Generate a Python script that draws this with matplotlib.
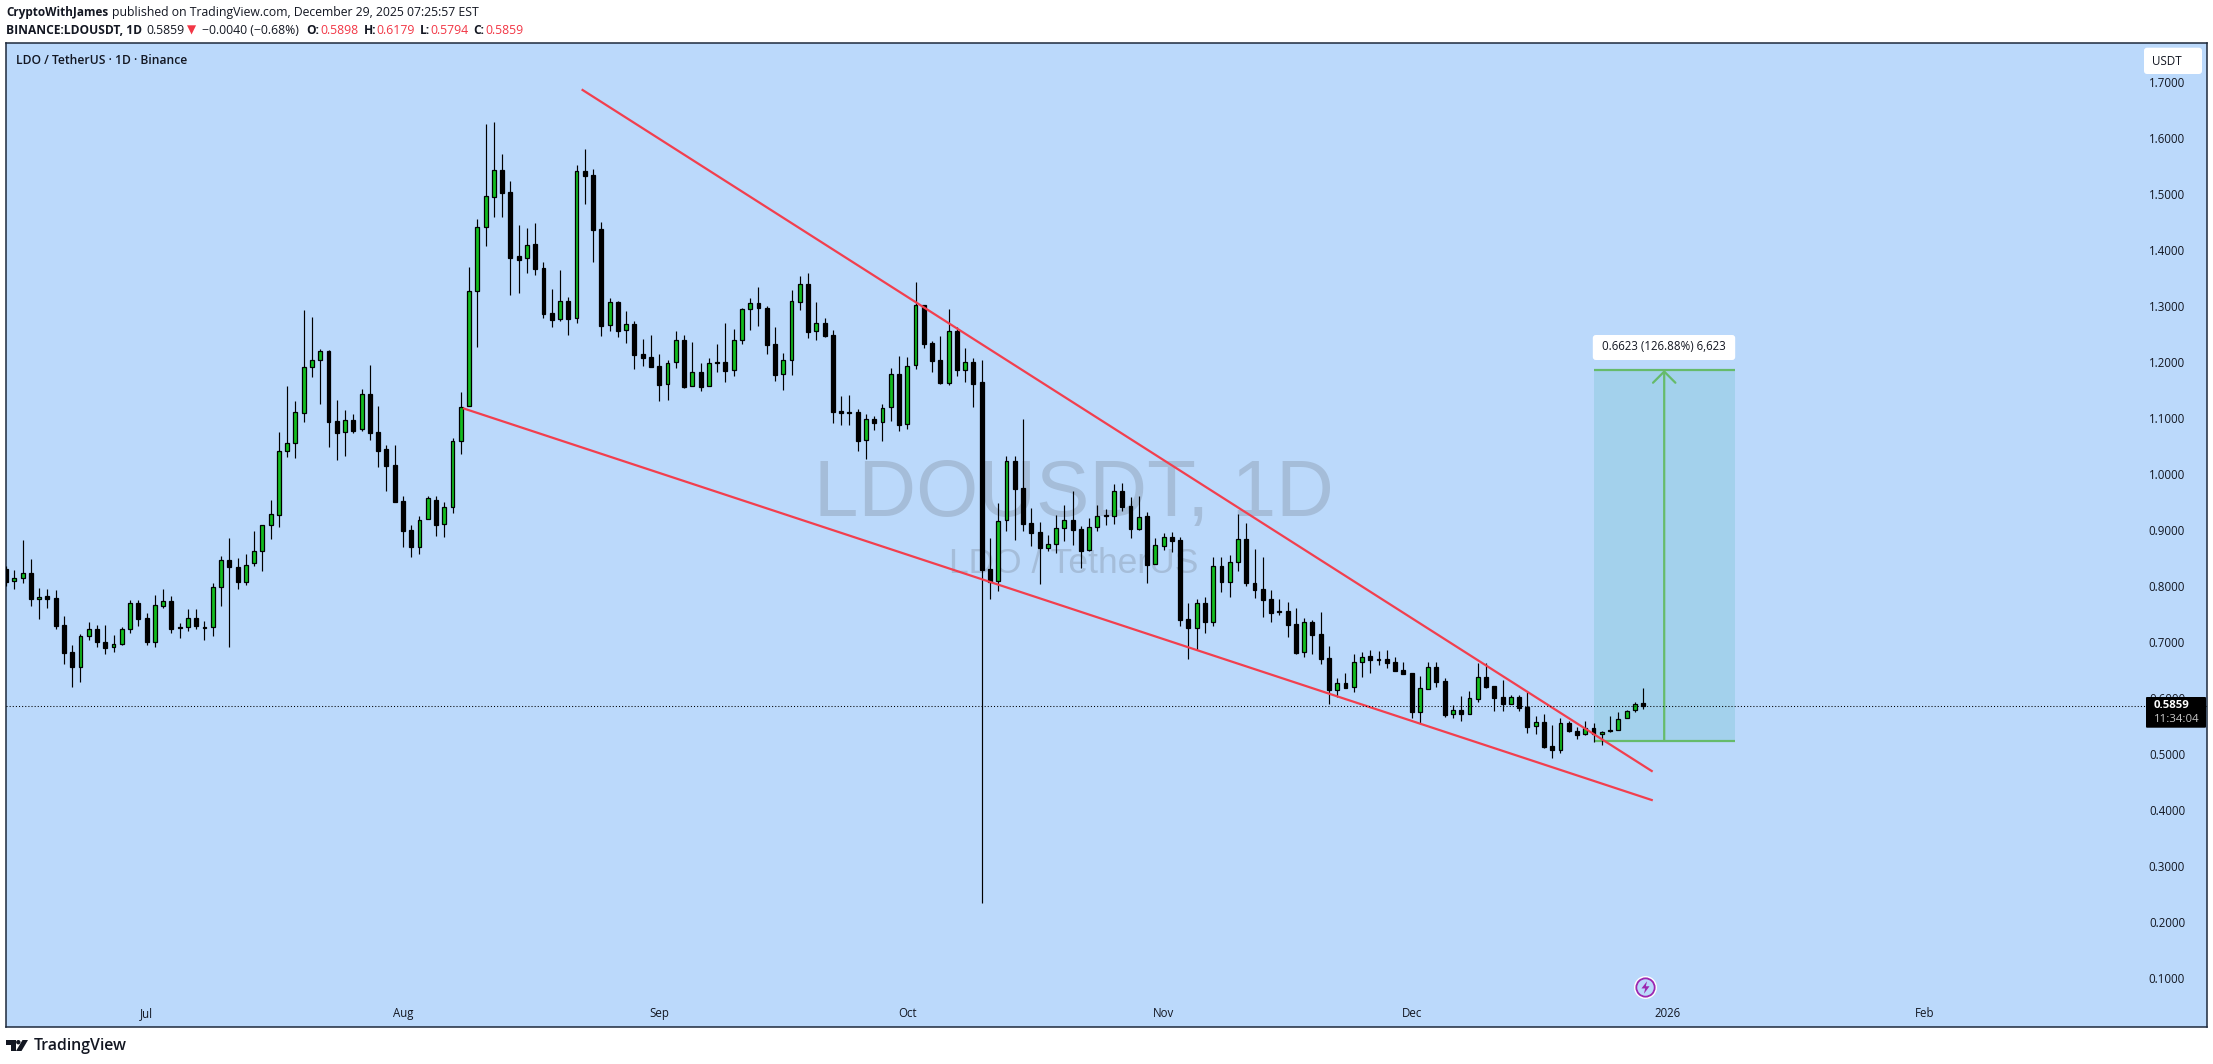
#!/usr/bin/env python3

import numpy as np
import matplotlib
matplotlib.use('Agg')
import matplotlib.pyplot as plt
from matplotlib.patches import FancyBboxPatch, Polygon, Circle
from matplotlib.transforms import IdentityTransform

W, H = 2213, 1064
DPI = 100

# daily candles, first value is the cut off one at the left edge, last is Dec 29
opens = [
    .8305, .8079, .8145, .8218, .7758, .7809, .7773, .7306, .6811, .6541,
    .7095, .7234, .6986, .6898, .6964, .7219, .7686, .7416, .6986, .7642,
    .7722, .7263, .7256, .7430, .7270, .7256, .7970, .8466, .8342, .8072,
    .8400, .8611, .9078, .9267, 1.0397, 1.0557, 1.1089, 1.1913, 1.2022, 1.2183,
    1.0936, 1.0740, 1.0966, 1.0791, 1.1417, 1.0740, 1.0434, 1.0149, .9508, .8990,
    .8699, .9194, .9537, .9107, .9413, 1.0579, 1.1205, 1.3258, 1.4400, 1.4948,
    1.5418, 1.5025, 1.3882, 1.3847, 1.4097, 1.3668, 1.2865, 1.2758, 1.3079, 1.2776,
    1.5400, 1.5328, 1.4364, 1.2651, 1.3061, 1.2562, 1.2669, 1.2133, 1.2080, 1.1919,
    1.1598, 1.1990, 1.2383, 1.1562, 1.1812, 1.1562, 1.1996, 1.1990, 1.1848, 1.2383,
    1.2936, 1.3044, 1.2954, 1.2312, 1.1776, 1.2026, 1.3073, 1.3383, 1.2544, 1.2687,
    1.2472, 1.1116, 1.1098, 1.1098, 1.0598, 1.0973, 1.0919, 1.1187, 1.1776, 1.0884,
    1.1937, 1.3008, 1.2330, 1.2031, 1.1626, 1.2543, 1.1858, 1.1989, 1.1632, .8294,
    .8080, .9169, 1.0222, .9740, .9116, .8955, .8681, .8741, .9026, .9169,
    .9008, .8634, .9044, .9264, .9252, .9687, .9419, .9020, .9240, .8384,
    .8717, .8866, .8812, .7402, .7253, .7688, .7360, .8348, .8074, .8419,
    .8830, .8044, .7937, .7759, .7545, .7545, .7313, .6813, .7348, .7138,
    .6709, .6144, .6257, .6187, .6633, .6740, .6692, .6686, .6633, .6489,
    .6436, .5752, .6163, .6544, .6300, .5717, .5776, .5717, .5984, .6365,
    .6204, .6008, .5895, .6008, .5830, .5490, .5562, .5133, .5062, .5544,
    .5413, .5348, .5467, .5360, .5419, .5419, .5633, .5776, .5898,
]
highs = [
    .8350, .8283, .8815, .8473, .7955, .7941, .7926, .7452, .6935, .7146,
    .7343, .7299, .7299, .7117, .7256, .7751, .7751, .7511, .7831, .7941,
    .7809, .7328, .7591, .7591, .7365, .8057, .8524, .8852, .8487, .8560,
    .8976, .9092, .9530, 1.0747, 1.1563, 1.1301, 1.2926, 1.2795, 1.2227, 1.2212,
    1.1323, 1.1133, 1.1075, 1.1520, 1.1935, 1.1206, 1.0521, 1.0506, .9595, .9078,
    .9253, .9595, .9595, .9486, 1.0630, 1.1454, 1.3686, 1.4543, 1.6245, 1.6274,
    1.5703, 1.5221, 1.4436, 1.4388, 1.4472, 1.3775, 1.3299, 1.3632, 1.3151, 1.5507,
    1.5792, 1.5435, 1.4489, 1.3133, 1.3079, 1.2907, 1.2728, 1.2407, 1.2478, 1.2139,
    1.2026, 1.2550, 1.2478, 1.2347, 1.1973, 1.2068, 1.2318, 1.2687, 1.2585, 1.2954,
    1.3139, 1.3335, 1.2990, 1.2615, 1.2151, 1.3282, 1.3531, 1.3585, 1.3067, 1.2776,
    1.2568, 1.1389, 1.1407, 1.1151, 1.1068, 1.1027, 1.1247, 1.1883, 1.2103, 1.2085,
    1.3418, 1.3008, 1.2370, 1.2459, 1.2935, 1.2614, 1.2245, 1.2061, 1.2031, .8848,
    .9478, 1.0317, 1.0317, 1.0972, .9389, .9139, .8907, .9258, .9437, .9693,
    .9068, .9211, .9443, .9377, .9818, .9830, .9580, .9603, .9312, .8848,
    .8937, .8955, .8866, .7688, .7759, .7795, .8509, .8509, .8544, .9276,
    .9116, .8657, .8509, .7920, .7759, .7705, .7598, .7420, .7384, .7525,
    .6918, .6346, .6436, .6782, .6811, .6853, .6829, .6853, .6728, .6639,
    .6436, .6389, .6633, .6633, .6353, .5871, .6032, .6121, .6621, .6621,
    .6216, .6317, .6050, .6050, .6109, .5675, .5705, .5514, .5639, .5580,
    .5473, .5580, .5550, .5413, .5669, .5740, .5788, .5919, .6179,
]
lows = [
    .8000, .7948, .8057, .7642, .7408, .7605, .7234, .6607, .6199, .6286,
    .7022, .6913, .6789, .6825, .6949, .7161, .7285, .6949, .6913, .7605,
    .7161, .7073, .7183, .7234, .7037, .7110, .7642, .6913, .7948, .8021,
    .8356, .8269, .8830, .9056, 1.0302, 1.0280, 1.0922, 1.1731, 1.1243, 1.0484,
    1.0251, 1.0324, 1.0732, 1.0754, 1.0608, 1.0127, .9697, .9486, .8699, .8516,
    .8575, .9194, .8888, .8874, .9304, 1.0360, 1.1205, 1.2270, 1.4073, 1.4591,
    1.4591, 1.3192, 1.3234, 1.3591, 1.3555, 1.2788, 1.2627, 1.2734, 1.2484, 1.2687,
    1.4823, 1.3781, 1.2466, 1.2556, 1.2449, 1.2341, 1.1877, 1.1931, 1.1913, 1.1306,
    1.1324, 1.1895, 1.1538, 1.1562, 1.1485, 1.1562, 1.1818, 1.1645, 1.1752, 1.2324,
    1.2573, 1.2645, 1.2145, 1.1663, 1.1503, 1.1770, 1.2930, 1.2431, 1.2389, 1.2449,
    1.0907, 1.0872, 1.0872, 1.0414, 1.0271, 1.0782, 1.0592, 1.0943, 1.0771, 1.0806,
    1.1877, 1.2252, 1.1824, 1.1609, 1.1591, 1.1751, 1.1644, 1.1198, .2334, .7771,
    .7914, .8985, .8824, .8979, .8711, .8039, .8628, .8592, .8800, .8735,
    .8318, .8628, .8985, .9092, .9104, .9342, .8860, .9002, .8056, .8384,
    .8646, .8610, .7289, .6694, .6855, .7164, .7289, .7896, .7806, .8271,
    .8003, .7789, .7450, .7343, .7485, .7092, .6789, .6735, .6789, .6602,
    .5888, .6019, .6180, .6103, .6371, .6442, .6585, .6532, .6484, .6430,
    .5639, .5550, .6163, .6193, .5663, .5639, .5586, .5717, .5925, .6181,
    .5764, .5764, .5895, .5764, .5371, .5354, .5104, .4925, .5015, .5395,
    .5264, .5342, .5211, .5157, .5395, .5419, .5633, .5752, .5794,
]
closes = [
    .8072, .8145, .8218, .7758, .7802, .7766, .7285, .6804, .6556, .7095,
    .7234, .6986, .6891, .6964, .7219, .7686, .7408, .6986, .7649, .7722,
    .7234, .7248, .7430, .7285, .7248, .7970, .8451, .8342, .8072, .8378,
    .8611, .9078, .9275, 1.0397, 1.0543, 1.1097, 1.1899, 1.2022, 1.2183, 1.0929,
    1.0732, 1.0966, 1.0769, 1.1417, 1.0732, 1.0412, 1.0142, .9500, .8983, .8699,
    .9180, .9559, .9092, .9398, 1.0579, 1.1184, 1.3258, 1.4412, 1.4953, 1.5418,
    1.5019, 1.3859, 1.3823, 1.4091, 1.3662, 1.2859, 1.2752, 1.3091, 1.2770, 1.5400,
    1.5322, 1.4358, 1.2645, 1.3061, 1.2556, 1.2669, 1.2127, 1.2074, 1.1913, 1.1592,
    1.1984, 1.2383, 1.1556, 1.1812, 1.1556, 1.1984, 1.1984, 1.1842, 1.2383, 1.2936,
    1.3044, 1.2966, 1.2306, 1.1770, 1.2026, 1.3079, 1.3383, 1.2538, 1.2687, 1.2466,
    1.1110, 1.1092, 1.1086, 1.0592, 1.0973, 1.0913, 1.1181, 1.1776, 1.0878, 1.1931,
    1.3008, 1.2324, 1.2020, 1.1626, 1.2543, 1.1858, 1.1989, 1.1609, .8288, .8074,
    .9163, 1.0222, .9734, .9110, .8949, .8681, .8741, .9026, .9169, .9002,
    .8628, .9044, .9252, .9252, .9687, .9413, .9020, .9235, .8378, .8723,
    .8866, .8806, .7396, .7253, .7688, .7360, .8348, .8074, .8419, .8830,
    .8044, .7932, .7753, .7521, .7527, .7307, .6807, .7348, .7128, .6691,
    .6144, .6257, .6180, .6633, .6722, .6681, .6674, .6627, .6484, .6430,
    .5752, .6169, .6544, .6288, .5693, .5776, .5717, .5990, .6365, .6199,
    .6002, .5895, .6008, .5823, .5484, .5562, .5121, .5062, .5544, .5413,
    .5342, .5467, .5360, .5395, .5401, .5627, .5770, .5895, .5859,
]

# x is days since Jun 15 2025
first_day = -1
month_days = [16, 47, 78, 108, 139, 169, 200, 231]
month_labels = ['Jul', 'Aug', 'Sep', 'Oct', 'Nov', 'Dec', '2026', 'Feb']
price_ticks = [0.1, 0.2, 0.3, 0.4, 0.5, 0.6, 0.7, 0.8, 0.9, 1.0, 1.1, 1.2, 1.3, 1.4, 1.5, 1.6, 1.7]

# drawn wedge and the long position box
upper_days = [68.73, 198.04]
upper_prices = [1.6852, 0.4691]
lower_days = [54.39, 198.04]
lower_prices = [1.1163, 0.4173]
range_days = [191, 208.1]
range_prices = [0.5229, 1.1852]
last_price = 0.5859

BG = '#bbd9fb'
GREEN = '#12bd1f'
FONT = 'Open Sans'
INK = '#131722'


def fig_xy(x, y):
    return x / W, 1 - y / H


def put_text(fig, x, y, s, size=8.8, color=INK, weight='normal', ha='left', family=FONT, zorder=10):
    fx, fy = fig_xy(x, y)
    return fig.text(fx, fy, s, fontsize=size, color=color, fontweight=weight, ha=ha, va='center',
                    family=family, zorder=zorder)


def round_box(fig, x0, y0, x1, y1, color, radius=3, zorder=6):
    box = FancyBboxPatch((x0, H - y1), x1 - x0, y1 - y0,
                         boxstyle='round,pad=0,rounding_size=%s' % radius,
                         facecolor=color, edgecolor='none', zorder=zorder)
    fig.add_artist(box)
    box.set_transform(IdentityTransform())
    return box


def draw_candles(ax):
    days = np.arange(first_day, first_day + len(opens))
    o = np.array(opens)
    c = np.array(closes)
    up = c >= o
    ax.vlines(days, lows, highs, color='black', lw=0.85, zorder=3)
    ax.bar(days, np.abs(c - o), bottom=np.minimum(o, c), width=0.47,
           color=np.where(up, GREEN, 'black'), edgecolor='black', linewidth=0.9, zorder=4)


def draw_position(ax):
    ax.fill_between(range_days, range_prices[0], range_prices[1], color='#a3d1ec', lw=0, zorder=1.5)
    ax.plot(range_days, [range_prices[0]] * 2, color='#66bb6a', lw=1.6, solid_capstyle='butt', zorder=2)
    ax.plot(range_days, [range_prices[1]] * 2, color='#66bb6a', lw=1.6, solid_capstyle='butt', zorder=2)
    mid = sum(range_days) / 2
    ax.annotate('', xy=(mid, range_prices[1]), xytext=(mid, range_prices[0]), zorder=2,
                arrowprops=dict(arrowstyle='->,head_length=0.62,head_width=0.62', color='#66bb6a',
                                lw=1.6, shrinkA=0, shrinkB=0, mutation_scale=13))


def main():
    plt.rcParams['font.family'] = [FONT, 'DejaVu Sans']
    fig = plt.figure(figsize=(W / DPI, H / DPI), dpi=DPI, facecolor='white')

    left, right, top, bottom = 6.4, 2206.7, 42.7, 1027.2
    ax = fig.add_axes([left / W, 1 - bottom / H, (right - left) / W, (bottom - top) / H])
    ax.set_facecolor(BG)
    # 8.268 px per day, 560 px per 1.0 of price
    ax.set_xlim((left - 14.33) / 8.268, (right - 14.33) / 8.268)
    ax.set_ylim(1 - (bottom - 473.7) / 560, 1 + (473.7 - top) / 560)
    for sp in ax.spines.values():
        sp.set_color('#1e2a3c')
        sp.set_linewidth(1.1)

    ax.yaxis.tick_right()
    ax.set_yticks(price_ticks)
    ax.set_yticklabels(['%.4f' % p for p in price_ticks], ha='right')
    ax.set_xticks(month_days)
    ax.set_xticklabels(month_labels)
    ax.tick_params(axis='y', length=0, pad=-15.6, labelsize=8.3, labelcolor=INK)
    ax.tick_params(axis='x', length=0, pad=-14.5, labelsize=8.3, labelcolor=INK)

    # watermark sits behind the candles
    ax.text(0.4852, 0.5405, 'LDOUSDT, 1D', transform=ax.transAxes, fontsize=57.6, color='#a5bdd9',
            ha='center', va='center', family='Liberation Sans', zorder=1)
    ax.text(0.4852, 0.471, 'LDO / TetherUS', transform=ax.transAxes, fontsize=25.5, color='#a5bdd9',
            ha='center', va='center', family='Liberation Sans', zorder=1)

    draw_position(ax)
    draw_candles(ax)

    ax.plot(upper_days, upper_prices, color='#f23f4e', lw=1.6, zorder=5)
    ax.plot(lower_days, lower_prices, color='#f23f4e', lw=1.6, zorder=5)
    ax.axhline(last_price, color='black', lw=0.75, ls=(0, (1, 2)), zorder=5)

    # news flag above the time axis
    flag_day, flag_price = 197.2, 0.0839
    ax.plot([flag_day], [flag_price], 'o', ms=15.5, mfc='white', mec='white', zorder=6)
    ax.plot([flag_day], [flag_price], 'o', ms=13.2, mfc=BG, mec='#9c27b0', mew=1.3, zorder=6)
    bolt = [(0.25, 1), (-0.65, -0.15), (-0.05, -0.15), (-0.25, -1), (0.65, 0.2), (0.05, 0.2)]
    ax.plot([flag_day], [flag_price], marker=bolt, ms=9, mfc='#9c27b0', mec='none', zorder=7)

    # header lines
    put_text(fig, 6.4, 12.7, 'CryptoWithJames', weight='bold', size=8.5)
    put_text(fig, 112.5, 12.7, 'published on TradingView.com, December 29, 2025 07:25:57 EST')
    put_text(fig, 6.4, 30, 'BINANCE:LDOUSDT, 1D', weight='bold', size=8.65)
    put_text(fig, 146.4, 30, '0.5859')
    put_text(fig, 186.5, 30, '\u25bc', color='#f23645', family='DejaVu Sans', size=8.6)
    put_text(fig, 202.5, 30, '\u22120.0040 (\u22120.68%)')
    for x, s in [(306, 'O:'), (363.6, 'H:'), (419.6, 'L:'), (473, 'C:')]:
        put_text(fig, x, 30, s, weight='bold', size=8.65)
    for x, s in [(320, '0.5898'), (376.8, '0.6179'), (430, '0.5794'), (485, '0.5859')]:
        put_text(fig, x, 30, s, color='#f23645')
    put_text(fig, 15.7, 61, 'LDO / TetherUS \u00b7 1D \u00b7 Binance', weight='semibold', size=8.7)

    # scale chip, price tag and measure label
    round_box(fig, 2144, 47.7, 2202, 74, 'white')
    put_text(fig, 2166.7, 61.3, 'USDT', ha='center', size=8.4, zorder=7)
    round_box(fig, 2146, 697, 2206, 727.7, 'black', radius=1)
    put_text(fig, 2154, 705.7, '0.5859', color='white', weight='bold', size=8.2, zorder=7)
    put_text(fig, 2154, 719.3, '11:34:04', color='#c8c8c8', size=8.2, zorder=7)
    round_box(fig, 1592.8, 335, 1735.2, 360, 'white')
    put_text(fig, 1664, 347, '0.6623 (126.88%) 6,623', ha='center', size=8.3, zorder=7)

    # footer logo
    identity = IdentityTransform()
    logo = '#131722'
    fig.add_artist(Polygon([(6, H - 1040), (15.5, H - 1040), (15.5, H - 1051), (10.5, H - 1051),
                            (10.5, H - 1044.5), (6, H - 1044.5)], facecolor=logo, edgecolor='none', transform=identity))
    fig.add_artist(Circle((18.3, H - 1042.2), 2.2, facecolor=logo, edgecolor='none', transform=identity))
    fig.add_artist(Polygon([(22.5, H - 1040), (28, H - 1040), (21.5, H - 1051), (16, H - 1051)],
                           facecolor=logo, edgecolor='none', transform=identity))
    put_text(fig, 33.5, 1045.7, 'TradingView', size=11.4, weight='semibold')

    fig.savefig('out.png', dpi=DPI)


if __name__ == '__main__':
    main()
